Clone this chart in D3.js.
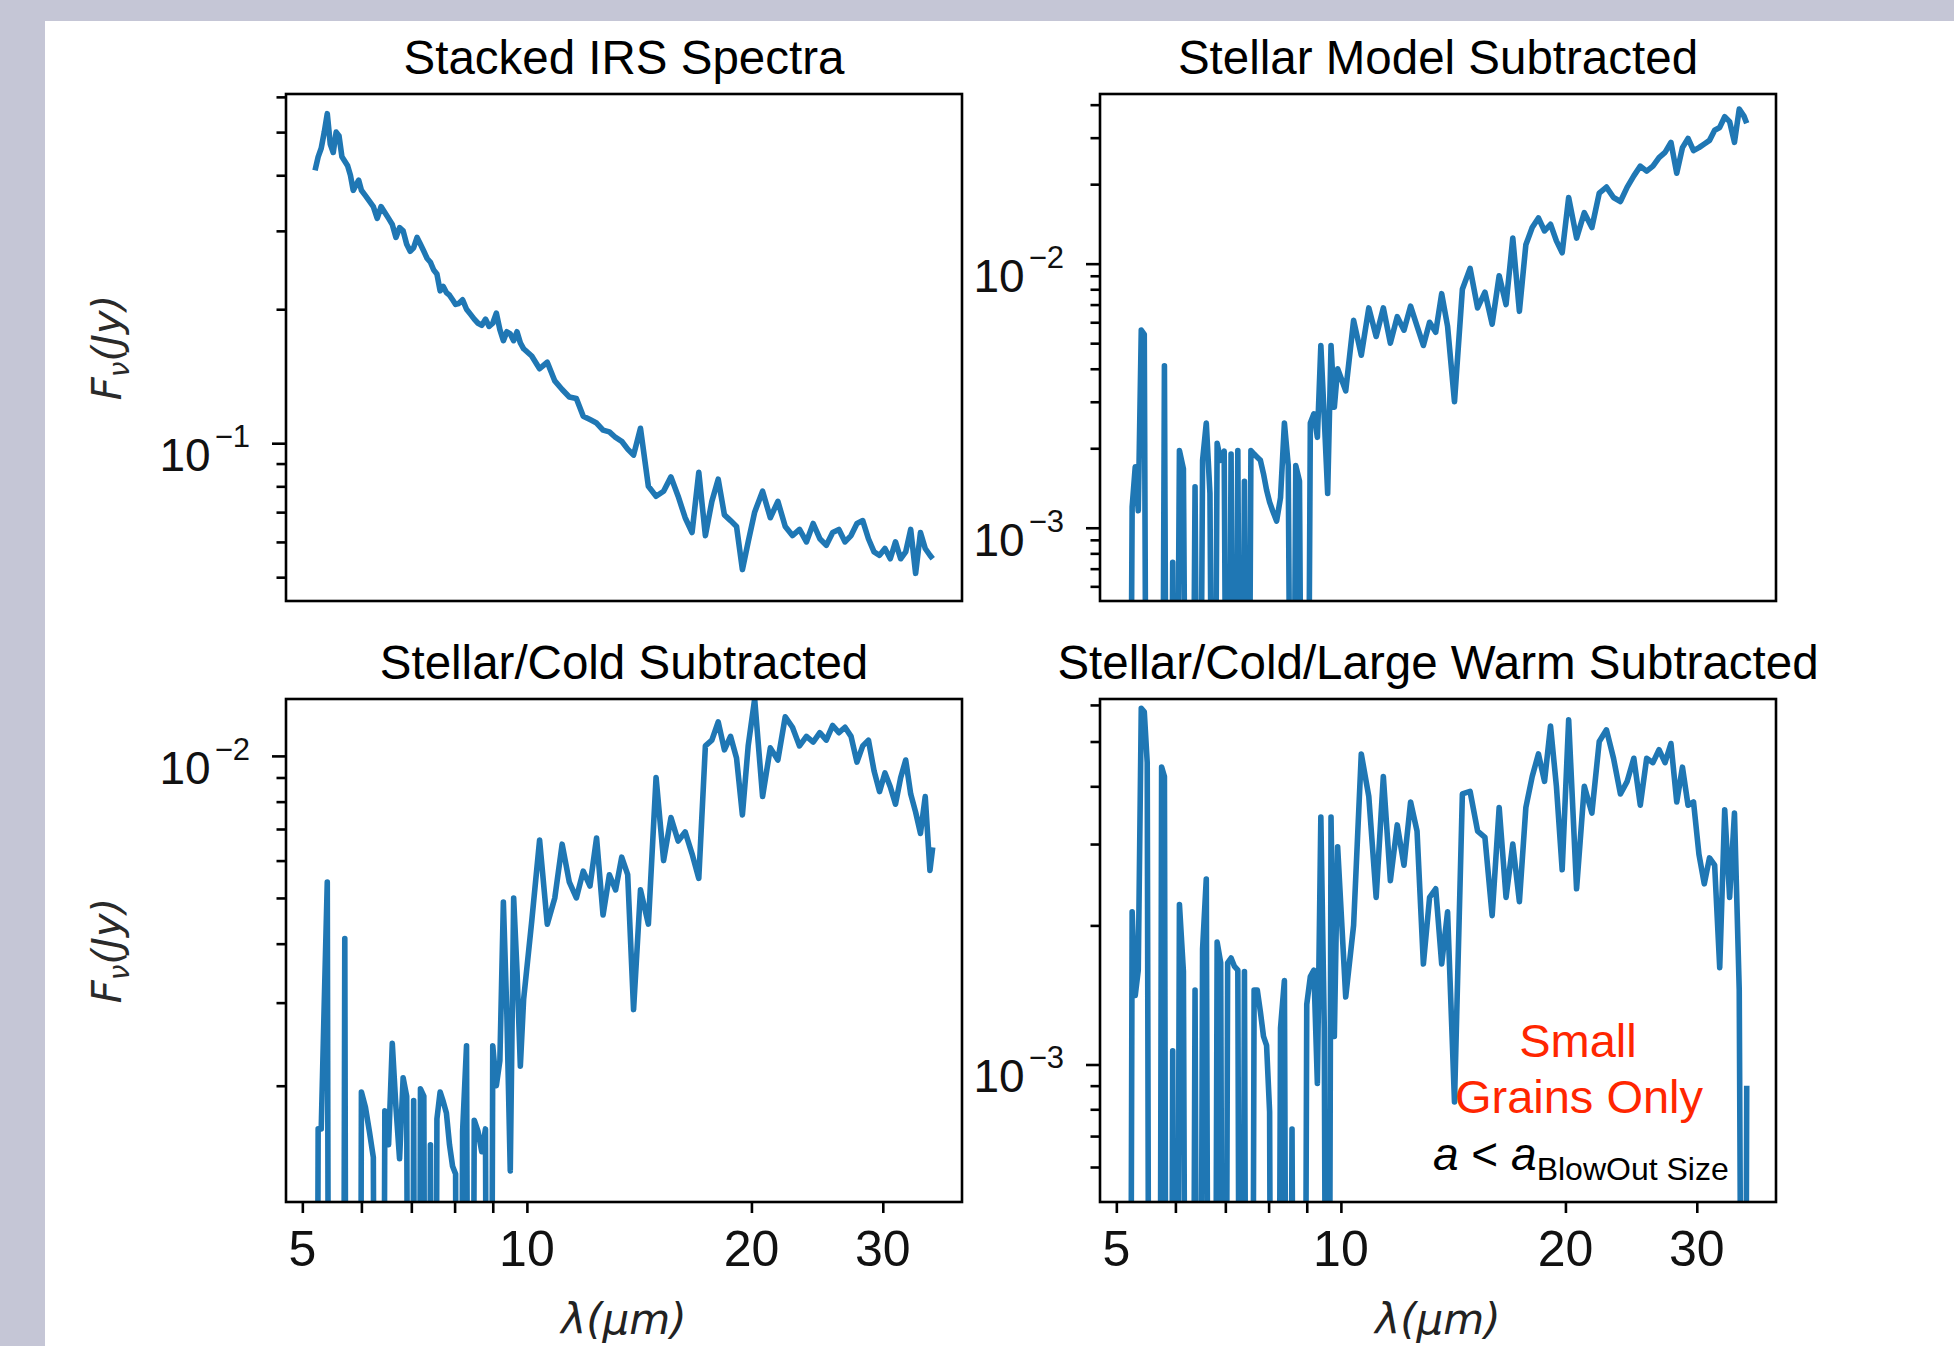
<!DOCTYPE html>
<html>
<head>
<meta charset="utf-8">
<script src="https://cdnjs.cloudflare.com/ajax/libs/d3/7.8.5/d3.min.js"></script>
<style>
  body { margin: 0; background: #c5c6d6; }
  svg { display: block; }
  .title, .ticklab, .note { font-family: "Liberation Sans", Arial, sans-serif; }
  .mathlab { font-family: "DejaVu Sans", sans-serif; font-style: italic; }
</style>
</head>
<body>
<script>
// wavelength grid (micron), shared by all four spectra
var wavelength = [5.2,5.25,5.3,5.35,5.4,5.45,5.5,5.55,5.6,5.65,5.7,5.75,5.8,5.85,5.9,5.95,6.0,
  6.075,6.15,6.225,6.3,6.375,6.45,6.525,6.6,6.675,6.75,6.825,6.9,6.975,7.05,7.125,7.2,7.275,7.35,7.425,7.5,7.575,7.65,7.725,7.8,7.875,7.95,
  8.025,8.1,8.2,8.3,8.4,8.5,8.6,8.7,8.8,8.9,9.0,9.1,9.2,9.3,9.4,9.5,9.6,9.7,9.8,9.9,
  10.15,10.4,10.65,10.9,11.15,11.4,11.65,11.9,12.15,12.4,12.65,12.9,13.15,13.4,13.65,13.9,
  14.2,14.55,14.9,15.25,15.6,15.95,16.3,16.65,17.0,17.35,17.7,18.05,18.4,18.75,19.1,19.45,19.8,
  20.2,20.7,21.2,21.7,22.2,22.7,23.2,23.7,24.2,24.7,25.2,25.7,26.2,26.7,27.2,27.7,28.2,28.7,29.2,29.7,
  30.2,30.7,31.2,31.7,32.2,32.7,33.2,33.7,34.2,34.7,
  35.0];

// flux (Jy); 1e-5 marks points that drop below the axis
var stackedFlux = [0.41,0.44,0.46,0.50,0.55,0.47,0.45,0.50,0.49,0.44,0.43,0.42,0.40,0.37,0.38,0.39,0.37,
  0.36,0.35,0.34,0.32,0.34,0.33,0.32,0.31,0.29,0.305,0.30,0.28,0.27,0.275,0.29,0.28,0.27,0.26,0.255,0.245,0.24,0.22,0.225,0.218,0.215,0.21,
  0.205,0.206,0.21,0.20,0.195,0.19,0.186,0.184,0.19,0.183,0.186,0.196,0.18,0.17,0.178,0.176,0.17,0.178,0.168,0.163,
  0.157,0.147,0.152,0.138,0.132,0.127,0.126,0.115,0.113,0.111,0.107,0.106,0.103,0.101,0.097,0.094,
  0.108,0.080,0.076,0.078,0.084,0.076,0.068,0.063,0.086,0.062,0.074,0.083,0.069,0.067,0.065,0.052,0.060,
  0.070,0.078,0.068,0.074,0.065,0.062,0.064,0.060,0.066,0.061,0.059,0.063,0.064,0.060,0.062,0.066,0.067,0.061,0.057,0.056,
  0.058,0.055,0.060,0.055,0.057,0.064,0.051,0.063,0.058,0.056,
  0.055];

var stellarSubFlux = [1e-5,1.2e-3,1.7e-3,1.16e-3,5.6e-3,5.4e-3,1e-5,1e-5,1e-5,1e-5,1e-5,1e-5,4.1e-3,1e-5,1e-5,7.4e-4,1e-5,
  1.96e-3,1.67e-3,1e-5,1e-5,1.43e-3,1e-5,1.8e-3,2.49e-3,1.35e-3,1e-5,2.09e-3,1.8e-3,1.95e-3,1e-5,1.9e-3,1e-5,1.96e-3,1e-5,1.5e-3,1e-5,1.96e-3,1.9e-3,1.85e-3,1.8e-3,1.6e-3,1.39e-3,
  1.25e-3,1.16e-3,1.06e-3,1.3e-3,2.49e-3,1.72e-3,1e-5,1.72e-3,1.5e-3,1e-5,1e-5,2.49e-3,2.7e-3,2.2e-3,4.9e-3,2.6e-3,1.35e-3,4.9e-3,2.86e-3,4.0e-3,
  3.3e-3,6.1e-3,4.5e-3,6.8e-3,5.3e-3,6.8e-3,5.0e-3,6.3e-3,5.6e-3,6.9e-3,5.8e-3,4.9e-3,6.0e-3,5.5e-3,7.7e-3,5.8e-3,
  3.0e-3,8.0e-3,9.6e-3,6.8e-3,7.8e-3,5.9e-3,9.0e-3,7.0e-3,1.25e-2,6.6e-3,1.18e-2,1.37e-2,1.49e-2,1.33e-2,1.41e-2,1.22e-2,1.1e-2,
  1.78e-2,1.25e-2,1.56e-2,1.37e-2,1.85e-2,1.95e-2,1.78e-2,1.72e-2,1.95e-2,2.15e-2,2.34e-2,2.24e-2,2.34e-2,2.52e-2,2.64e-2,2.88e-2,2.2e-2,2.75e-2,2.98e-2,2.68e-2,
  2.75e-2,2.84e-2,2.93e-2,3.2e-2,3.28e-2,3.6e-2,3.45e-2,2.88e-2,3.85e-2,3.62e-2,
  3.4e-2];

var coldSubFlux = [1e-5,1.62e-3,1.62e-3,3.0e-3,5.4e-3,1e-5,1e-5,1e-5,1e-5,1e-5,4.1e-3,1e-5,1e-5,1e-5,1e-5,1e-5,1.94e-3,
  1.8e-3,1.6e-3,1.41e-3,1e-5,1e-5,1.77e-3,1.5e-3,2.46e-3,1.8e-3,1.4e-3,2.08e-3,1.9e-3,1e-5,1.86e-3,1e-5,1.97e-3,1.9e-3,1e-5,1.5e-3,1e-5,1.7e-3,1.94e-3,1.85e-3,1.75e-3,1.5e-3,1.35e-3,
  1.3e-3,1e-5,1.6e-3,2.43e-3,1e-5,1.69e-3,1.6e-3,1.45e-3,1.62e-3,1e-5,2.43e-3,2.0e-3,2.26e-3,4.9e-3,2.84e-3,1.32e-3,5.0e-3,3.5e-3,2.2e-3,3.05e-3,
  4.46e-3,6.63e-3,4.4e-3,5.0e-3,6.5e-3,5.4e-3,5.0e-3,5.7e-3,5.3e-3,6.7e-3,4.6e-3,5.6e-3,5.2e-3,6.1e-3,5.6e-3,2.9e-3,
  5.2e-3,4.4e-3,9.0e-3,6.0e-3,7.4e-3,6.6e-3,6.9e-3,6.2e-3,5.5e-3,1.05e-2,1.08e-2,1.18e-2,1.03e-2,1.1e-2,9.9e-3,7.5e-3,1.05e-2,
  1.32e-2,8.2e-3,1.04e-2,9.8e-3,1.21e-2,1.15e-2,1.05e-2,1.1e-2,1.07e-2,1.12e-2,1.08e-2,1.16e-2,1.12e-2,1.15e-2,1.1e-2,9.7e-3,1.05e-2,1.08e-2,9.3e-3,8.4e-3,
  9.2e-3,8.6e-3,7.9e-3,8.99e-3,9.8e-3,8.3e-3,7.6e-3,6.85e-3,8.2e-3,5.72e-3,
  6.4e-3];

var warmSubFlux = [1e-5,2.14e-3,1.41e-3,1.6e-3,5.9e-3,5.8e-3,4.5e-3,1e-5,1e-5,1e-5,1e-5,4.4e-3,4.2e-3,1e-5,1e-5,1.07e-3,1e-5,
  2.22e-3,1.59e-3,1e-5,1e-5,1.45e-3,1e-5,1.78e-3,2.52e-3,1e-5,1e-5,1.84e-3,1.66e-3,1e-5,1.66e-3,1.7e-3,1.63e-3,1.6e-3,1e-5,1.59e-3,1e-5,1e-5,1.45e-3,1.45e-3,1.3e-3,1.15e-3,1.1e-3,
  7.9e-4,1e-5,1e-5,1.2e-3,1.52e-3,1e-5,7.25e-4,1e-5,1e-5,1e-5,1.35e-3,1.55e-3,1.6e-3,9.1e-4,3.43e-3,1.2e-3,1e-5,3.43e-3,1.15e-3,2.96e-3,
  1.4e-3,2.0e-3,4.7e-3,3.8e-3,2.3e-3,4.2e-3,2.5e-3,3.3e-3,2.7e-3,3.7e-3,3.2e-3,1.65e-3,2.3e-3,2.4e-3,1.65e-3,2.14e-3,
  8.3e-4,3.85e-3,3.9e-3,3.2e-3,3.1e-3,2.1e-3,3.6e-3,2.3e-3,3.0e-3,2.25e-3,3.6e-3,4.2e-3,4.7e-3,4.1e-3,5.4e-3,4.0e-3,2.64e-3,
  5.57e-3,2.4e-3,4.0e-3,3.5e-3,5.0e-3,5.3e-3,4.6e-3,3.85e-3,4.1e-3,4.6e-3,3.64e-3,4.6e-3,4.5e-3,4.8e-3,4.5e-3,4.95e-3,3.7e-3,4.4e-3,3.64e-3,3.7e-3,
  2.85e-3,2.46e-3,2.8e-3,2.7e-3,1.62e-3,3.56e-3,2.3e-3,3.5e-3,1.45e-3,1e-5,
  9.0e-4];

var panelTitles = ["Stacked IRS Spectra", "Stellar Model Subtracted",
                   "Stellar/Cold Subtracted", "Stellar/Cold/Large Warm Subtracted"];
var xTickValues = [5, 6, 7, 8, 9, 10, 20, 30];
var xTickLabels = ["5", "10", "20", "30"];

var W = 1954, H = 1346;
var panelWidth = 676;
var xDomain = [4.754, 38.31];

var svg = d3.select("body").append("svg")
    .attr("width", W)
    .attr("height", H);

// slide background + white figure area
svg.append("rect").attr("width", W).attr("height", H).attr("fill", "#c5c6d6");
svg.append("rect").attr("x", 45).attr("y", 21)
    .attr("width", W - 45).attr("height", H - 21).attr("fill", "#ffffff");

var panels = [
  {title: panelTitles[0], flux: stackedFlux,    left: 286,  top: 94,  height: 507, yDomain: [0.0442, 0.609],    bottomAxis: false, yLabel: true},
  {title: panelTitles[1], flux: stellarSubFlux, left: 1100, top: 94,  height: 507, yDomain: [5.28e-4, 0.0439],  bottomAxis: false, yLabel: false},
  {title: panelTitles[2], flux: coldSubFlux,    left: 286,  top: 699, height: 503, yDomain: [1.134e-3, 1.32e-2], bottomAxis: true, yLabel: true},
  {title: panelTitles[3], flux: warmSubFlux,    left: 1100, top: 699, height: 503, yDomain: [5.04e-4, 6.18e-3], bottomAxis: true, yLabel: false}
];

function isDecade(v) {
  var l = Math.log10(v);
  return Math.abs(l - Math.round(l)) < 1e-9;
}

panels.forEach(function(p, i) {
  var g = svg.append("g").attr("transform", "translate(" + p.left + "," + p.top + ")");

  var x = d3.scaleLog().domain(xDomain).range([0, panelWidth]);
  var y = d3.scaleLog().domain(p.yDomain).range([p.height, 0]);

  // title
  g.append("text")
    .attr("class", "title")
    .attr("x", panelWidth / 2)
    .attr("y", -20)
    .attr("text-anchor", "middle")
    .attr("font-size", 47.5)
    .attr("fill", "#000")
    .text(p.title);

  // spectrum, clipped to the axes box
  g.append("clipPath").attr("id", "clip" + i)
    .append("rect").attr("width", panelWidth).attr("height", p.height);

  var pts = wavelength.map(function(w, j) { return [w, p.flux[j]]; });
  g.append("path")
    .datum(pts)
    .attr("clip-path", "url(#clip" + i + ")")
    .attr("fill", "none")
    .attr("stroke", "#1f77b4")
    .attr("stroke-width", 5.6)
    .attr("stroke-linejoin", "round")
    .attr("d", d3.line()
      .defined(function(d) { return d[1] > 0; })
      .x(function(d) { return x(d[0]); })
      .y(function(d) { return y(d[1]); }));

  // y ticks: decades long with labels, the rest short
  var yTicks = y.ticks();
  var majors = yTicks.filter(isDecade);
  var minors = yTicks.filter(function(v) { return !isDecade(v); });

  var yMinor = g.append("g").call(d3.axisLeft(y).tickValues(minors).tickSize(9.5).tickFormat(""));
  var yMajor = g.append("g").call(d3.axisLeft(y).tickValues(majors).tickSize(14).tickFormat(""));
  [yMinor, yMajor].forEach(function(a) {
    a.select(".domain").remove();
    a.selectAll(".tick line").attr("stroke", "#000").attr("stroke-width", 2.6);
  });

  majors.forEach(function(v) {
    var t = g.append("text")
      .attr("class", "ticklab")
      .attr("x", -36)
      .attr("y", y(v) + 28)
      .attr("text-anchor", "end")
      .attr("fill", "#111");
    t.append("tspan").attr("font-size", 46).text("10");
    t.append("tspan").attr("font-size", 31).attr("dy", -24).attr("dx", 4)
      .text("\u2212" + Math.round(-Math.log10(v)));
  });

  // x ticks only on the bottom row
  if (p.bottomAxis) {
    var xa = g.append("g")
      .attr("transform", "translate(0," + p.height + ")")
      .call(d3.axisBottom(x).tickValues(xTickValues).tickSize(11).tickFormat(""));
    xa.select(".domain").remove();
    xa.selectAll(".tick line").attr("stroke", "#000").attr("stroke-width", 2.6);

    xTickLabels.forEach(function(s) {
      g.append("text")
        .attr("class", "ticklab")
        .attr("x", x(+s))
        .attr("y", p.height + 64)
        .attr("text-anchor", "middle")
        .attr("font-size", 50)
        .attr("fill", "#111")
        .text(s);
    });

    g.append("text")
      .attr("class", "mathlab")
      .attr("x", panelWidth / 2)
      .attr("y", 1334 - p.top)
      .attr("text-anchor", "middle")
      .attr("font-size", 42)
      .attr("fill", "#222")
      .text("\u03bb(\u03bcm)");
  }

  if (p.yLabel) {
    var yl = g.append("text")
      .attr("class", "mathlab")
      .attr("transform", "translate(" + (121 - p.left) + "," + (p.height / 2) + ") rotate(-90)")
      .attr("text-anchor", "middle")
      .attr("font-size", 40)
      .attr("fill", "#2a2a2a");
    yl.append("tspan").text("F");
    yl.append("tspan").attr("font-size", 28).attr("dy", 8).text("\u03bd");
    yl.append("tspan").attr("dy", -8).text("(Jy)");
  }

  // axes box on top
  g.append("rect")
    .attr("width", panelWidth)
    .attr("height", p.height)
    .attr("fill", "none")
    .attr("stroke", "#000")
    .attr("stroke-width", 2.6);
});

// note in the last panel
var note = svg.append("g").attr("class", "note");
note.append("text").attr("x", 1578).attr("y", 1057).attr("text-anchor", "middle")
  .attr("font-size", 47).attr("fill", "#ff2600").text("Small");
note.append("text").attr("x", 1579).attr("y", 1113).attr("text-anchor", "middle")
  .attr("font-size", 47).attr("fill", "#ff2600").text("Grains Only");
var rel = note.append("text").attr("x", 1433).attr("y", 1170).attr("font-size", 46).attr("fill", "#000");
rel.append("tspan").attr("font-style", "italic").text("a");
rel.append("tspan").text(" < ");
rel.append("tspan").attr("font-style", "italic").text("a");
rel.append("tspan").attr("font-size", 32).attr("dy", 10).text("BlowOut Size");
</script>
</body>
</html>
